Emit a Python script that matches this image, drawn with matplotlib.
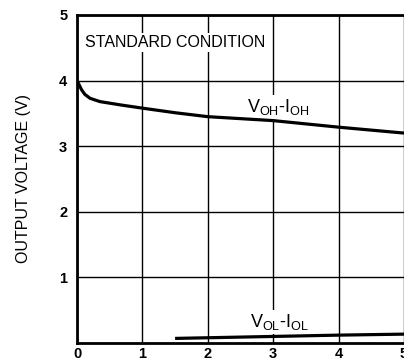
import matplotlib
matplotlib.use('Agg')
import matplotlib.pyplot as plt

voh_x = [0.0, 0.03, 0.07, 0.12, 0.2, 0.35, 0.66, 1.0, 1.5, 2.0, 3.0, 4.0, 5.0]
voh_y = [4.0, 3.94, 3.86, 3.79, 3.73, 3.68, 3.63, 3.58, 3.51, 3.45, 3.39, 3.29, 3.20]
vol_x = [1.5, 2.0, 3.0, 4.0, 5.0]
vol_y = [0.07, 0.08, 0.10, 0.12, 0.135]

xticks = [0, 1, 2, 3, 4, 5]
yticks = [1, 2, 3, 4, 5]

plt.rcParams['font.family'] = ['Liberation Sans', 'DejaVu Sans']
plt.rcParams['mathtext.fontset'] = 'custom'
plt.rcParams['mathtext.rm'] = 'Liberation Sans'

fig = plt.figure(figsize=(4.04, 3.63), dpi=100)
ax = fig.add_axes([0.1906, 0.0551, 0.8094, 0.9036])

ax.plot(voh_x, voh_y, color='black', lw=2.3, solid_capstyle='butt', zorder=3)
ax.plot(vol_x, vol_y, color='black', lw=2.3, solid_capstyle='butt', zorder=3)

ax.set_xlim(0, 5)
ax.set_ylim(0, 5)
ax.set_xticks(xticks)
ax.set_yticks(yticks)
ax.tick_params(length=0, labelsize=10.5)
ax.tick_params(axis='y', pad=7)
ax.tick_params(axis='x', pad=3)
for lab in ax.get_xticklabels() + ax.get_yticklabels():
    lab.set_fontweight('bold')
ax.grid(True, color='black', lw=1.0)

for s in ['left', 'bottom', 'top']:
    ax.spines[s].set_linewidth(2.0)
ax.spines['right'].set_visible(False)

ax.set_ylabel('OUTPUT VOLTAGE (V)', fontsize=11.5, labelpad=20)

box = dict(facecolor='white', edgecolor='none', pad=1.5)
ax.text(0.12, 4.58, 'STANDARD CONDITION', fontsize=11.5, va='center', ha='left', bbox=box, zorder=2)
ax.text(2.6, 3.6, r'V$_{\rm OH}$-I$_{\rm OH}$', fontsize=13, va='center', ha='left', bbox=box, zorder=2)
ax.text(2.65, 0.32, r'V$_{\rm OL}$-I$_{\rm OL}$', fontsize=13, va='center', ha='left', bbox=box, zorder=2)

plt.savefig('out.png', dpi=100)
